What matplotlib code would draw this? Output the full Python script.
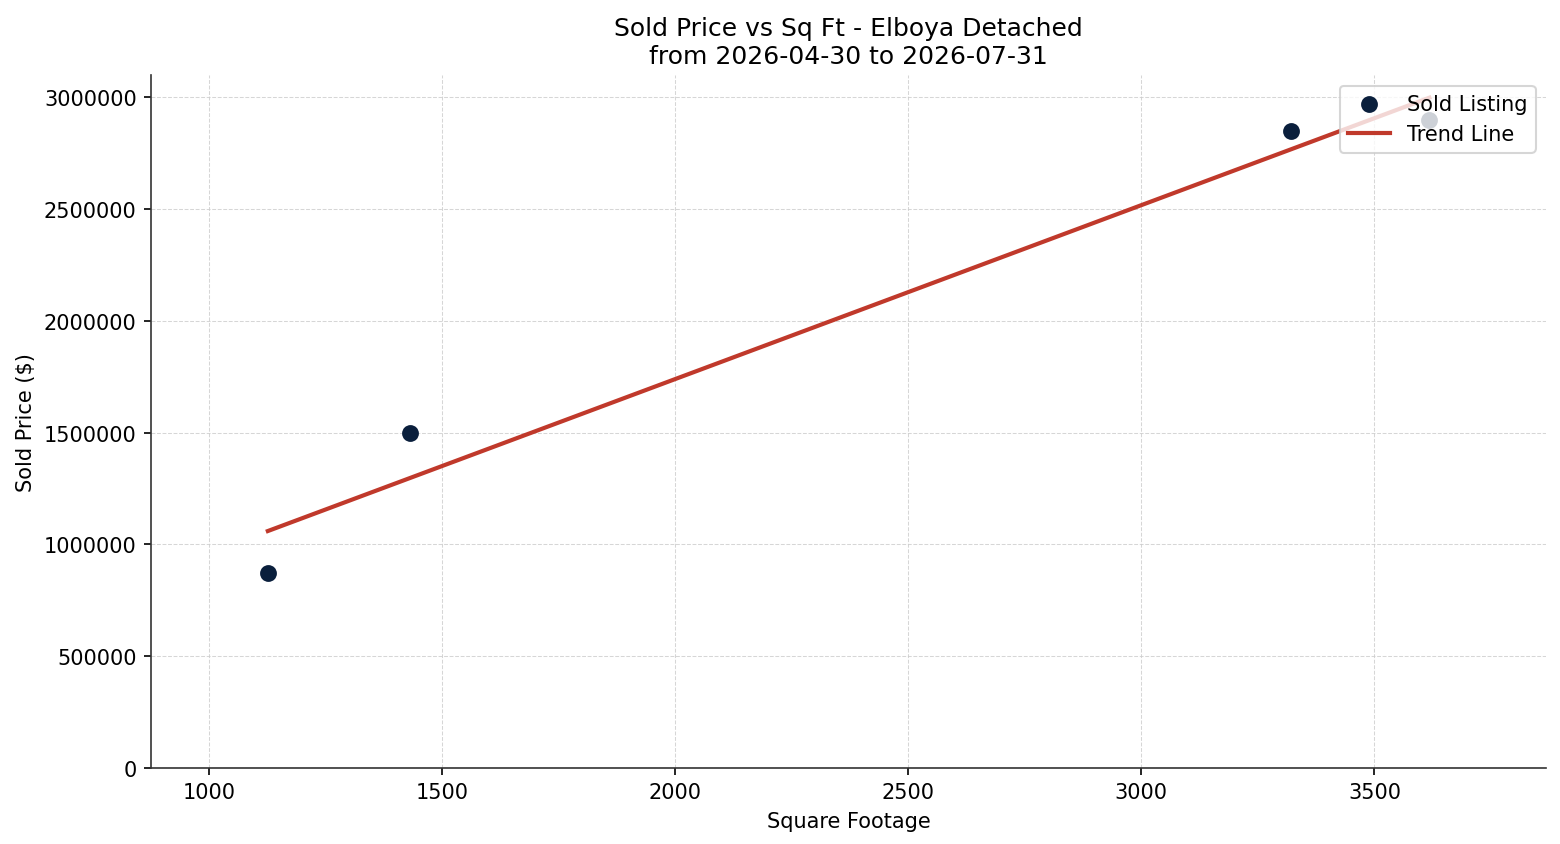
import numpy as np
import matplotlib.pyplot as plt

# sold listings, Elboya detached
sqft = [1126, 1431, 3322, 3618]
sold_price = [874000, 1498000, 2852000, 2901000]

title = 'Sold Price vs Sq Ft - Elboya Detached\nfrom 2026-04-30 to 2026-07-31'

x = np.array(sqft, dtype=float)
y = np.array(sold_price, dtype=float)

# simple least squares trend
m, b = np.polyfit(x, y, 1)
x_line = np.array([x.min(), x.max()])
y_line = m * x_line + b

fig, ax = plt.subplots(figsize=(10.4, 5.633), dpi=150)

ax.scatter(x, y, s=50, color='#0a1f3c', label='Sold Listing', zorder=3)
ax.plot(x_line, y_line, color='#c0392b', linewidth=2, label='Trend Line', zorder=2)

ax.set_xlim(x.min() - 250, x.max() + 250)
ax.set_ylim(0, 3.1e6)
ax.ticklabel_format(style='plain', axis='y')

ax.set_title(title, fontsize=12)
ax.set_xlabel('Square Footage')
ax.set_ylabel('Sold Price ($)')
ax.grid(True, linestyle='--', linewidth=0.5, color='#cccccc', alpha=0.8)

for side in ['top', 'right']:
    ax.spines[side].set_visible(False)
for side in ['left', 'bottom']:
    ax.spines[side].set_color('#333333')

ax.legend(loc='upper right')

fig.subplots_adjust(left=0.097, right=0.991, top=0.910, bottom=0.090)
plt.savefig('out.png', dpi=150)
